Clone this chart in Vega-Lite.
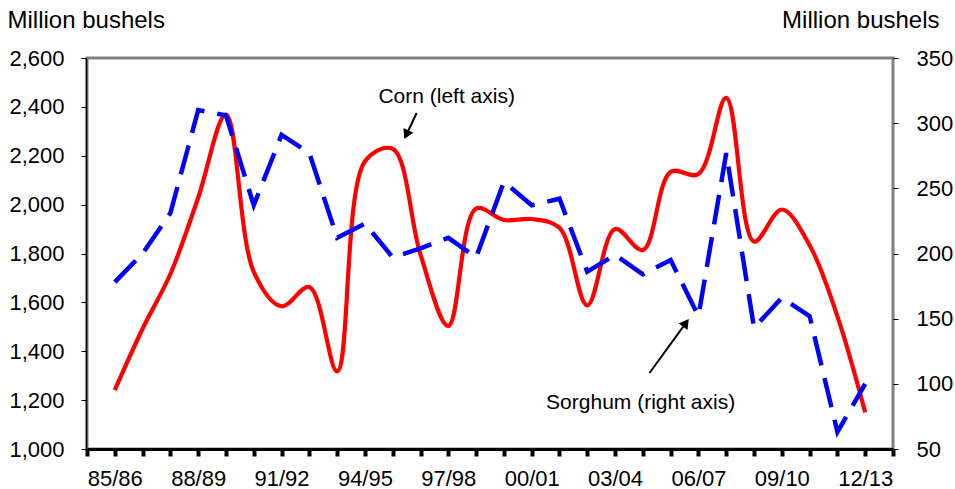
{
  "$schema": "https://vega.github.io/schema/vega-lite/v6.json",
  "width": 806,
  "height": 391,
  "autosize": {"type": "none"},
  "padding": {"left": 87, "top": 58, "right": 62, "bottom": 40},
  "background": "white",
  "config": {
    "font": "Liberation Sans",
    "view": {"stroke": "#808080", "strokeWidth": 3},
    "axis": {"grid": false, "labelColor": "black", "titleColor": "black", "labelFont": "Liberation Sans", "titleFont": "Liberation Sans", "titleFontWeight": "normal"},
    "axisX": {"labelOverlap": false, "labelFlush": false}
  },
  "datasets": {
    "exports": [
      {"year": 1985, "corn": 1241, "sorghum": 178},
      {"year": 1986, "corn": 1492, "sorghum": 200},
      {"year": 1987, "corn": 1716, "sorghum": 231},
      {"year": 1988, "corn": 2028, "sorghum": 310},
      {"year": 1989, "corn": 2368, "sorghum": 306},
      {"year": 1990, "corn": 1725, "sorghum": 237},
      {"year": 1991, "corn": 1584, "sorghum": 291},
      {"year": 1992, "corn": 1663, "sorghum": 277},
      {"year": 1993, "corn": 1318, "sorghum": 212},
      {"year": 1994, "corn": 2177, "sorghum": 223},
      {"year": 1995, "corn": 2228, "sorghum": 197},
      {"year": 1996, "corn": 1795, "sorghum": 204},
      {"year": 1997, "corn": 1504, "sorghum": 212},
      {"year": 1998, "corn": 1984, "sorghum": 197},
      {"year": 1999, "corn": 1937, "sorghum": 255},
      {"year": 2000, "corn": 1941, "sorghum": 237},
      {"year": 2001, "corn": 1905, "sorghum": 242},
      {"year": 2002, "corn": 1588, "sorghum": 186},
      {"year": 2003, "corn": 1900, "sorghum": 199},
      {"year": 2004, "corn": 1814, "sorghum": 184},
      {"year": 2005, "corn": 2134, "sorghum": 195},
      {"year": 2006, "corn": 2125, "sorghum": 152},
      {"year": 2007, "corn": 2437, "sorghum": 277},
      {"year": 2008, "corn": 1849, "sorghum": 143},
      {"year": 2009, "corn": 1980, "sorghum": 166},
      {"year": 2010, "corn": 1834, "sorghum": 152},
      {"year": 2011, "corn": 1543, "sorghum": 63},
      {"year": 2012, "corn": 1150, "sorghum": 100}
    ],
    "labels": [
      {"x": 1996.94, "y": 2440, "text": "Corn (left axis)"},
      {"x": 2003.92, "y": 1188, "text": "Sorghum (right axis)"}
    ],
    "arrows": [
      {"x": 1995.86, "y": 2375, "x2": 1995.49, "y2": 2286, "angle": 206},
      {"x": 2004.24, "y": 1311, "x2": 2005.55, "y2": 1516, "angle": 37}
    ]
  },
  "resolve": {"scale": {"y": "independent"}},
  "layer": [
    {
      "data": {"name": "exports"},
      "mark": {"type": "line", "color": "#FF0000", "strokeWidth": 4.2, "interpolate": "catmull-rom"},
      "encoding": {
        "x": {
          "field": "year", "type": "quantitative",
          "scale": {"domain": [1984, 2013], "nice": false, "zero": false},
          "axis": {
            "title": null,
            "values": [1984,1985,1986,1987,1988,1989,1990,1991,1992,1993,1994,1995,1996,1997,1998,1999,2000,2001,2002,2003,2004,2005,2006,2007,2008,2009,2010,2011,2012,2013],
            "tickCount": 60,
            "labelExpr": "(datum.value >= 1985 && datum.value <= 2012 && (datum.value - 1985) % 3 == 0) ? substring(toString(datum.value), 2, 4) + '/' + substring(toString(datum.value + 1), 2, 4) : ''",
            "labelFontSize": 22,
            "labelPadding": 12,
            "labelFlush": false,
            "labelOverlap": false,
            "domainColor": "black",
            "domainWidth": 3,
            "tickColor": "black",
            "tickWidth": 4,
            "tickSize": 7
          }
        },
        "y": {
          "field": "corn", "type": "quantitative",
          "scale": {"domain": [1000, 2600], "nice": false, "zero": false},
          "axis": {
            "title": "Million bushels",
            "titleAngle": 0,
            "titleAlign": "left",
            "titleBaseline": "alphabetic",
            "titleX": -79,
            "titleY": -31,
            "titleFontSize": 24,
            "values": [1000,1200,1400,1600,1800,2000,2200,2400,2600],
            "tickCount": 20,
            "format": ",.0f",
            "labelFontSize": 22,
            "labelPadding": 17,
            "offset": 1,
            "domainColor": "black",
            "domainWidth": 1.5,
            "tickColor": "black",
            "tickWidth": 1,
            "tickSize": 5
          }
        }
      }
    },
    {
      "data": {"name": "exports"},
      "mark": {"type": "line", "color": "#0000FF", "strokeWidth": 4.5, "strokeDash": [30, 13]},
      "encoding": {
        "x": {"field": "year", "type": "quantitative", "scale": {"domain": [1984, 2013], "nice": false, "zero": false}},
        "y": {
          "field": "sorghum", "type": "quantitative",
          "scale": {"domain": [50, 350], "nice": false, "zero": false},
          "axis": {
            "orient": "right",
            "title": "Million bushels",
            "titleAngle": 0,
            "titleAlign": "right",
            "titleBaseline": "alphabetic",
            "titleX": 46,
            "titleY": -31,
            "titleFontSize": 24,
            "values": [50,100,150,200,250,300,350],
            "tickCount": 20,
            "format": "d",
            "labelFontSize": 22,
            "labelPadding": 18,
            "domain": false,
            "tickColor": "black",
            "tickWidth": 1,
            "tickSize": 5
          }
        }
      }
    },
    {
      "data": {"name": "labels"},
      "mark": {"type": "text", "fontSize": 21, "color": "black", "align": "center", "baseline": "middle"},
      "encoding": {
        "x": {"field": "x", "type": "quantitative", "scale": {"domain": [1984, 2013], "nice": false, "zero": false}},
        "y": {"field": "y", "type": "quantitative", "scale": {"domain": [1000, 2600], "nice": false, "zero": false}, "axis": null},
        "text": {"field": "text"}
      }
    },
    {
      "data": {"name": "arrows"},
      "mark": {"type": "rule", "color": "black", "strokeWidth": 2},
      "encoding": {
        "x": {"field": "x", "type": "quantitative", "scale": {"domain": [1984, 2013], "nice": false, "zero": false}},
        "y": {"field": "y", "type": "quantitative", "scale": {"domain": [1000, 2600], "nice": false, "zero": false}, "axis": null},
        "x2": {"field": "x2"},
        "y2": {"field": "y2"}
      }
    },
    {
      "data": {"name": "arrows"},
      "mark": {"type": "point", "shape": "triangle-up", "filled": true, "color": "black", "size": 120, "opacity": 1},
      "encoding": {
        "x": {"field": "x2", "type": "quantitative", "scale": {"domain": [1984, 2013], "nice": false, "zero": false}},
        "y": {"field": "y2", "type": "quantitative", "scale": {"domain": [1000, 2600], "nice": false, "zero": false}, "axis": null},
        "angle": {"field": "angle", "type": "quantitative", "scale": null}
      }
    }
  ]
}
